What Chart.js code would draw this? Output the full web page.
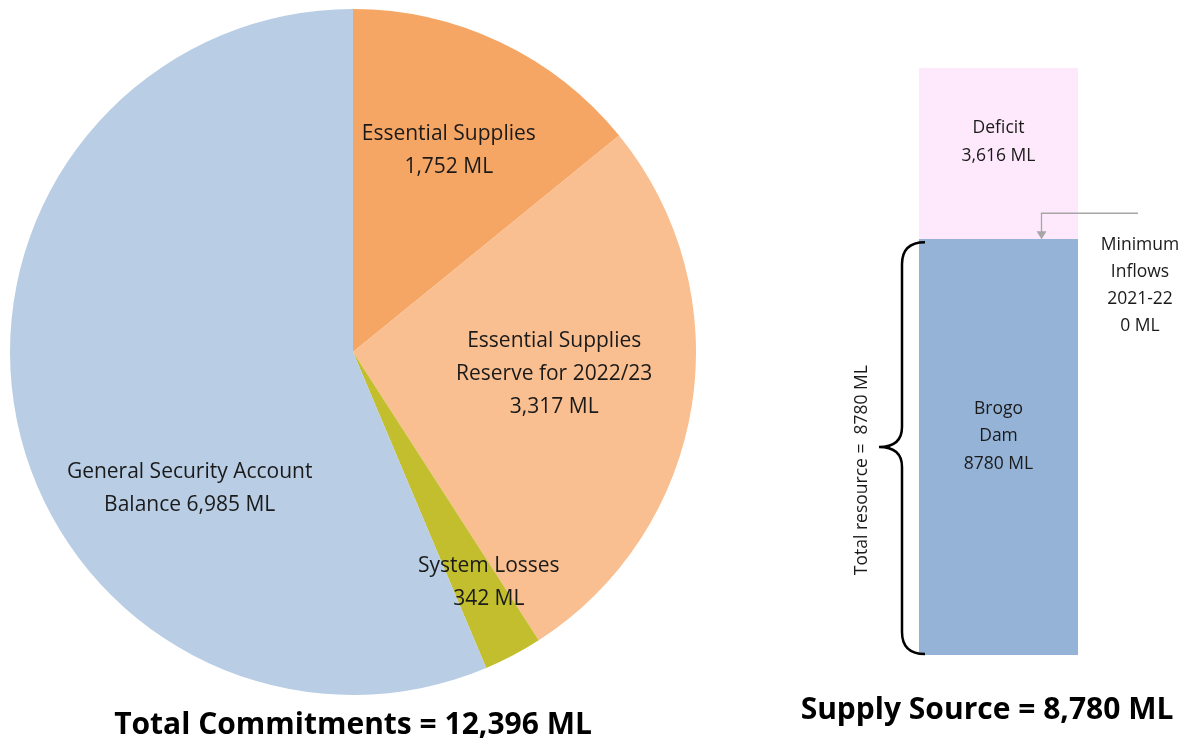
<!DOCTYPE html>
<html>
<head>
<meta charset="utf-8">
<script src="https://cdn.jsdelivr.net/npm/chart.js@4.4.1/dist/chart.umd.min.js"></script>
<style>
  body { margin: 0; width: 1192px; height: 747px; background: #fff; overflow: hidden; position: relative; font-family: "Open Sans", Lato, sans-serif; }
  .total { position: absolute; font-weight: bold; font-size: 30px; line-height: 40px; color: #000; white-space: nowrap; transform: translateX(-50%); }
</style>
</head>
<body>
<canvas id="commitChart" width="710" height="747" style="position:absolute;left:0;top:0"></canvas>
<canvas id="supplyChart" width="482" height="747" style="position:absolute;left:710px;top:0"></canvas>
<div class="total" id="commitTotal" style="left:353px;top:703px"></div>
<div class="total" id="supplyTotal" style="left:987px;top:688px"></div>
<script>
// Commitments (pie), clockwise from 12 o'clock
const commitNames = ['Essential Supplies', 'Essential Supplies Reserve for 2022/23', 'System Losses', 'General Security Account Balance'];
const commitValues = [1752, 3317, 342, 6985];
const commitLabelLines = [
    ['Essential Supplies', '{v} ML'],
    ['Essential Supplies', 'Reserve for 2022/23', '{v} ML'],
    ['System Losses', '{v} ML'],
    ['General Security Account', 'Balance {v} ML']
];
const commitColors = ['#F6A664', '#F9BF90', '#C2BE2E', '#B9CDE5'];

// Supply source (stacked bar)
const supplyCategories = ['Supply Source'];
const brogoDam = [8780];
const minimumInflows = [0];
const deficit = [3616];

const fmt = v => v.toLocaleString('en-US');

document.getElementById('commitTotal').textContent =
    'Total Commitments = ' + fmt(commitValues.reduce((a, b) => a + b, 0)) + ' ML';
document.getElementById('supplyTotal').textContent =
    'Supply Source = ' + fmt(brogoDam[0] + minimumInflows[0]) + ' ML';

const FONT = '"Open Sans", Lato, sans-serif';

// where each pie label sits: [fraction along the arc, fraction of radius]
const labelSpots = [[0.5, 0.65], [0.47, 0.59], [0.23, 0.78], [0.36, 0.62]];

const pieLabels = {
    id: 'pieLabels',
    afterDatasetsDraw(chart) {
        const ctx = chart.ctx;
        const meta = chart.getDatasetMeta(0);
        ctx.save();
        ctx.font = '21px ' + FONT;
        ctx.fillStyle = '#1a1a1a';
        ctx.textAlign = 'center';
        ctx.textBaseline = 'middle';
        meta.data.forEach((arc, i) => {
            const [fa, fr] = labelSpots[i];
            const a = arc.startAngle + fa * (arc.endAngle - arc.startAngle);
            const cx = arc.x + Math.cos(a) * arc.outerRadius * fr;
            const cy = arc.y + Math.sin(a) * arc.outerRadius * fr;
            const lines = commitLabelLines[i].map(s => s.replace('{v}', fmt(commitValues[i])));
            const lh = 33;
            lines.forEach((ln, k) => {
                ctx.fillText(ln, cx, cy + (k - (lines.length - 1) / 2) * lh);
            });
        });
        ctx.restore();
    }
};

new Chart(document.getElementById('commitChart'), {
    type: 'pie',
    data: {
        labels: commitNames,
        datasets: [{
            data: commitValues,
            backgroundColor: commitColors,
            borderWidth: 0
        }]
    },
    options: {
        responsive: false,
        animation: false,
        layout: { padding: { left: 10, top: 9, right: 14, bottom: 52 } },
        plugins: { legend: { display: false }, tooltip: { enabled: false } }
    },
    plugins: [pieLabels]
});

const barNotes = {
    id: 'barNotes',
    afterDatasetsDraw(chart) {
        const ctx = chart.ctx;
        const yS = chart.scales.y;
        const dam = chart.getDatasetMeta(0).data[0];
        const left = dam.x - dam.width / 2, right = dam.x + dam.width / 2;
        const base = yS.getPixelForValue(0);
        const joint = yS.getPixelForValue(brogoDam[0] + minimumInflows[0]);
        const top = yS.getPixelForValue(brogoDam[0] + minimumInflows[0] + deficit[0]);

        ctx.save();
        ctx.fillStyle = '#1a1a1a';
        ctx.textAlign = 'center';
        ctx.textBaseline = 'middle';
        ctx.font = '17.5px ' + FONT;
        const block = (lines, x, y, lh) => lines.forEach((ln, k) =>
            ctx.fillText(ln, x, y + (k - (lines.length - 1) / 2) * lh));

        block(['Deficit', fmt(deficit[0]) + ' ML'], dam.x, (top + joint) / 2 - 12, 28);
        block(['Brogo', 'Dam', brogoDam[0] + ' ML'], dam.x, (joint + base) / 2 - 11, 27.5);
        block(['Minimum', 'Inflows', '2021-22', minimumInflows[0] + ' ML'], right + 62, joint + 46, 27);

        // arrow to the min inflows boundary
        const ay = joint - 26, ax = dam.x + 43;
        ctx.strokeStyle = '#A6A6A6';
        ctx.fillStyle = '#A6A6A6';
        ctx.lineWidth = 1.3;
        ctx.beginPath();
        ctx.moveTo(right + 60, ay);
        ctx.lineTo(ax, ay);
        ctx.lineTo(ax, joint - 6);
        ctx.stroke();
        ctx.beginPath();
        ctx.moveTo(ax - 5, joint - 8);
        ctx.lineTo(ax + 5, joint - 8);
        ctx.lineTo(ax, joint);
        ctx.closePath();
        ctx.fill();

        // brace
        const spine = left - 17, tip = left - 40, mid = (joint + base) / 2;
        const t = joint + 3, b = base - 1;
        ctx.strokeStyle = '#000';
        ctx.lineWidth = 2.5;
        ctx.beginPath();
        ctx.moveTo(left + 6, t);
        ctx.quadraticCurveTo(spine, t, spine, t + 22);
        ctx.lineTo(spine, mid - 20);
        ctx.quadraticCurveTo(spine, mid, tip, mid);
        ctx.quadraticCurveTo(spine, mid, spine, mid + 20);
        ctx.lineTo(spine, b - 22);
        ctx.quadraticCurveTo(spine, b, left + 6, b);
        ctx.stroke();

        // rotated total
        ctx.fillStyle = '#1a1a1a';
        ctx.translate(left - 57, mid + 23);
        ctx.rotate(-Math.PI / 2);
        ctx.fillText('Total resource =  ' + (brogoDam[0] + minimumInflows[0]) + ' ML', 0, 0);
        ctx.restore();
    }
};

new Chart(document.getElementById('supplyChart'), {
    type: 'bar',
    data: {
        labels: supplyCategories,
        datasets: [
            { label: 'Brogo Dam', data: brogoDam, backgroundColor: '#95B3D7' },
            { label: 'Minimum Inflows 2021-22', data: minimumInflows, backgroundColor: '#7F7F7F' },
            { label: 'Deficit', data: deficit, backgroundColor: '#FDE9FB' }
        ]
    },
    options: {
        responsive: false,
        animation: false,
        barPercentage: 1,
        categoryPercentage: 1,
        layout: { padding: { left: 209, top: 68, right: 114, bottom: 92 } },
        scales: {
            x: { stacked: true, display: false },
            y: { stacked: true, display: false, min: 0, max: 12396 }
        },
        plugins: { legend: { display: false }, tooltip: { enabled: false } }
    },
    plugins: [barNotes]
});
</script>
</body>
</html>
